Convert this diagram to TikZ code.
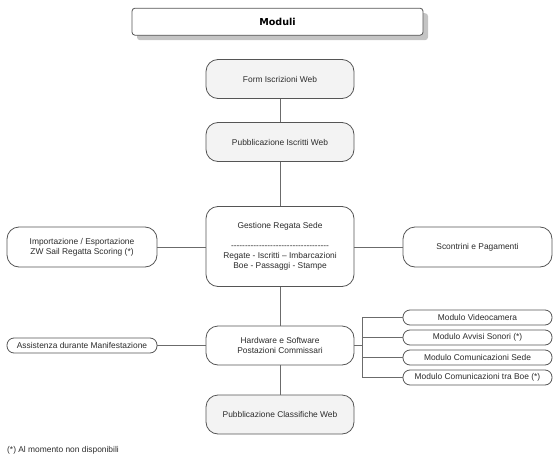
\documentclass[tikz,border=0pt]{standalone}
\usepackage{fontspec}
\setmainfont{Liberation Sans}
\newfontfamily\titlefont{DejaVu Sans}
\usepackage{xcolor}
\usepackage{tikz}
\usetikzlibrary{positioning,shadows}
\definecolor{mdline}{HTML}{6B6B6B}
\definecolor{mdborder}{HTML}{555555}
\definecolor{mdgray}{HTML}{F3F3F3}
\definecolor{mdshadow}{HTML}{C4C4C4}
\definecolor{mdtext}{HTML}{2B2B2B}
\newcommand\hyrow{\foreach \k in {1,...,35}{-\kern0pt}}
\tikzset{
  mdbox/.style={draw=mdborder, fill=white, rounded corners=12pt, line width=0.8pt,
    align=center, text=mdtext, inner sep=0pt, minimum width=148pt, minimum height=39pt,
    font=\fontsize{8.4}{10}\selectfont},
  mdboxgray/.style={mdbox, fill=mdgray},
  mdpill/.style={mdbox, rounded corners=7pt, minimum height=15pt},
  mdtitle/.style={draw=mdborder, fill=white, rounded corners=3pt, line width=0.8pt,
    minimum width=291pt, minimum height=27pt, inner sep=0pt,
    font=\titlefont\bfseries\fontsize{9.6}{11}\selectfont,
    drop shadow={shadow xshift=5pt, shadow yshift=-5pt, fill=mdshadow, opacity=1}},
  mdconn/.style={draw=mdline, line width=0.9pt},
  mdnote/.style={font=\fontsize{8.4}{10}\selectfont, text=mdtext, inner sep=0pt}
}
\begin{document}
\begin{tikzpicture}[x=1pt, y=-1pt]
  \useasboundingbox (0,0) rectangle (560,463);
  \node[mdtitle] (moduli) at (277.5,21.7) {Moduli};
  \node[mdboxgray] (form) at (280,79) {Form Iscrizioni Web};
  \node[mdboxgray] (pubisc) at (280,142) {Pubblicazione Iscritti Web};
  \node[mdbox, minimum height=80pt] (gestione) at (280,246.5)
    {Gestione Regata Sede\\[10pt]\hyrow\\Regate - Iscritti – Imbarcazioni\\Boe - Passaggi - Stampe};
  \node[mdbox, minimum width=150pt, minimum height=40pt] (import) at (82,247)
    {Importazione / Esportazione\\ZW Sail Regatta Scoring (*)};
  \node[mdbox, minimum width=149pt, minimum height=40pt] (scontrini) at (477.5,247) {Scontrini e Pagamenti};
  \node[mdbox] (hardware) at (280,345.5) {Hardware e Software\\Postazioni Commissari};
  \node[mdpill, minimum width=150pt] (assist) at (82,345.5) {Assistenza durante Manifestazione};
  \node[mdpill, minimum width=149pt] (video) at (477.5,317.5) {Modulo Videocamera};
  \node[mdpill, minimum width=149pt] (avvisi) at (477.5,337.5) {Modulo Avvisi Sonori (*)};
  \node[mdpill, minimum width=149pt] (sede) at (477.5,357.5) {Modulo Comunicazioni Sede};
  \node[mdpill, minimum width=149pt] (boe) at (477.5,377.5) {Modulo Comunicazioni tra Boe (*)};
  \node[mdboxgray] (classif) at (280,414.5) {Pubblicazione Classifiche Web};
  \node[mdnote, anchor=west] (nota) at (7,450.7) {(*) Al momento non disponibili};
  \coordinate (fork) at (362.7,345.5);
  \draw[mdconn] (form) -- (pubisc);
  \draw[mdconn] (pubisc) -- (gestione);
  \draw[mdconn] (gestione) -- (hardware);
  \draw[mdconn] (hardware) -- (classif);
  \draw[mdconn] (import.east) -- (import.east -| gestione.west);
  \draw[mdconn] (gestione.east |- scontrini.west) -- (scontrini.west);
  \draw[mdconn] (assist.east) -- (hardware.west);
  \draw[mdconn] (hardware.east) -- (fork);
  \draw[mdconn] (video.west) -- (video.west -| fork) -- (boe.west -| fork) -- (boe.west);
  \foreach \m in {avvisi,sede}
    \draw[mdconn] (\m.west) -- (\m.west -| fork);
\end{tikzpicture}
\end{document}
